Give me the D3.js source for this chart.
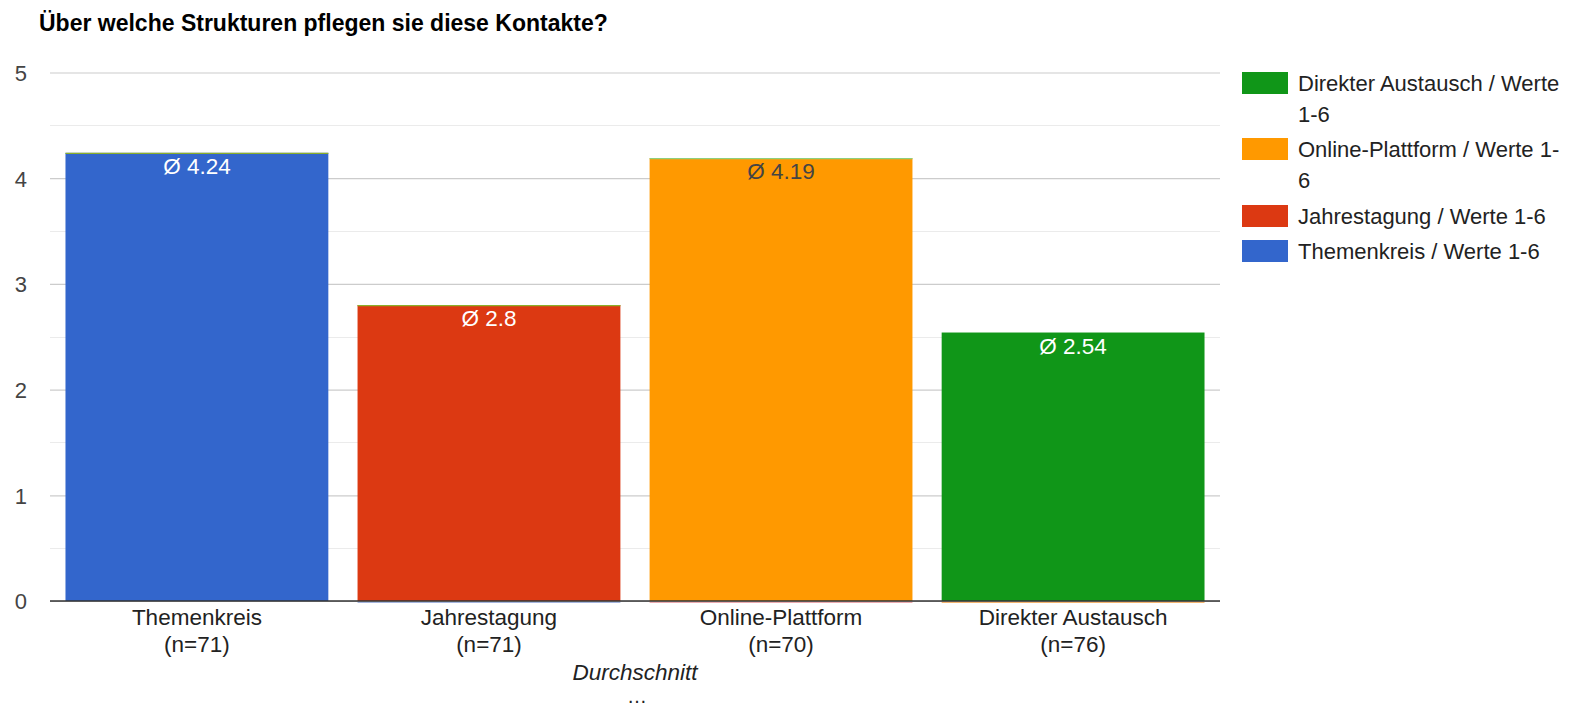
<!DOCTYPE html>
<html>
<head>
<meta charset="utf-8">
<script src="https://cdn.jsdelivr.net/npm/d3@7"></script>
<style>
  html, body { margin: 0; padding: 0; background: #fff; }
  svg { display: block; font-family: "Liberation Sans", Arial, sans-serif; }
</style>
</head>
<body>
<svg id="chart" width="1586" height="709"></svg>
<script>
const title = "Über welche Strukturen pflegen sie diese Kontakte?";
const categories = ["Themenkreis", "Jahrestagung", "Online-Plattform", "Direkter Austausch"];
const counts = ["(n=71)", "(n=71)", "(n=70)", "(n=76)"];
const means = [4.24, 2.8, 4.19, 2.54];
const meanLabels = ["Ø 4.24", "Ø 2.8", "Ø 4.19", "Ø 2.54"];
const colors = ["#3366cc", "#dc3912", "#ff9900", "#109618"];
const labelColors = ["#ffffff", "#ffffff", "#444444", "#ffffff"];
const seriesNames = ["Themenkreis / Werte 1-6", "Jahrestagung / Werte 1-6", "Online-Plattform / Werte 1-6", "Direkter Austausch / Werte 1-6"];
const legendOrder = [3, 2, 1, 0];
const legendLines = [
  ["Direkter Austausch / Werte", "1-6"],
  ["Online-Plattform / Werte 1-", "6"],
  ["Jahrestagung / Werte 1-6"],
  ["Themenkreis / Werte 1-6"]
];
const yTicks = [0, 1, 2, 3, 4, 5];
const yMinorTicks = [0.5, 1.5, 2.5, 3.5, 4.5];
const axisTitle = "Durchschnitt";

(function () {
const svg = d3.select("#chart");
const pL = 50, pR = 1220, pT = 72.5, pB = 601;

const x = d3.scaleBand().domain(categories).range([pL, pR]).paddingInner(0.1).paddingOuter(0.053);
const y = d3.scaleLinear().domain([0, 5]).range([pB, pT]);

// title
svg.append("text").attr("x", 39).attr("y", 31)
  .attr("font-size", 23).attr("font-weight", "bold").attr("fill", "#000")
  .text(title);

// minor grid
svg.append("g").selectAll("line").data(yMinorTicks).join("line")
  .attr("x1", pL).attr("x2", pR)
  .attr("y1", d => Math.round(y(d)) + 0.5).attr("y2", d => Math.round(y(d)) + 0.5)
  .attr("stroke", "#ebebeb").attr("stroke-width", 1);

// y axis with major grid
const yAxis = d3.axisLeft(y).tickValues(yTicks).tickSize(-(pR - pL)).tickFormat(d3.format("d"));
const gy = svg.append("g").attr("transform", `translate(${pL},0)`).call(yAxis);
gy.select(".domain").remove();
gy.selectAll(".tick line").attr("stroke", "#cccccc").attr("stroke-width", 1.2);
gy.selectAll(".tick text").attr("x", -23).attr("fill", "#444").attr("font-size", 22)
  .attr("font-family", "'Liberation Sans', Arial, sans-serif").attr("dy", "0.36em");

// bars
const bars = svg.append("g");
bars.selectAll("rect").data(categories).join("rect")
  .attr("x", d => x(d))
  .attr("y", (d, i) => y(means[i]))
  .attr("width", x.bandwidth())
  .attr("height", (d, i) => y(0) - y(means[i]))
  .attr("fill", (d, i) => colors[i]);

// zero-height stacked segments drawn as thin lines on top of bars
const topColors = ["#8caf2a", "#8caf2a", "#8fcf7c", null];
const topData = categories.map((c, i) => ({ c, v: means[i], col: topColors[i] })).filter(d => d.col);
bars.selectAll("line.topseg").data(topData).join("line")
  .attr("class", "topseg")
  .attr("x1", d => x(d.c)).attr("x2", d => x(d.c) + x.bandwidth())
  .attr("y1", d => y(d.v) + 0.5).attr("y2", d => y(d.v) + 0.5)
  .attr("stroke", d => d.col).attr("stroke-width", 1.2);

// baseline
svg.append("line").attr("x1", pL).attr("x2", pR)
  .attr("y1", y(0)).attr("y2", y(0)).attr("stroke", "#333").attr("stroke-width", 1.3);

// zero segments below bars at baseline
const baseColors = [null, "#8fa3d6", "#e8959b", "#f2a24c"];
const baseData = categories.map((c, i) => ({ c, col: baseColors[i] })).filter(d => d.col);
bars.selectAll("line.baseseg").data(baseData).join("line")
  .attr("class", "baseseg")
  .attr("x1", d => x(d.c)).attr("x2", d => x(d.c) + x.bandwidth())
  .attr("y1", y(0) + 1.3).attr("y2", y(0) + 1.3)
  .attr("stroke", d => d.col).attr("stroke-width", 1);

// value labels
svg.append("g").selectAll("text").data(categories).join("text")
  .attr("x", d => x(d) + x.bandwidth() / 2)
  .attr("y", (d, i) => y(means[i]) + 21)
  .attr("text-anchor", "middle").attr("font-size", 22.5)
  .attr("fill", (d, i) => labelColors[i])
  .text((d, i) => meanLabels[i]);

// x labels
const xl = svg.append("g");
xl.selectAll("text.cat").data(categories).join("text").attr("class", "cat")
  .attr("x", d => x(d) + x.bandwidth() / 2).attr("y", 625)
  .attr("text-anchor", "middle").attr("font-size", 22.5).attr("fill", "#222")
  .text(d => d);
xl.selectAll("text.cnt").data(counts).join("text").attr("class", "cnt")
  .attr("x", (d, i) => x(categories[i]) + x.bandwidth() / 2).attr("y", 652)
  .attr("text-anchor", "middle").attr("font-size", 22.5).attr("fill", "#222")
  .text(d => d);

svg.append("text").attr("x", (pL + pR) / 2).attr("y", 680)
  .attr("text-anchor", "middle").attr("font-size", 22.5).attr("font-style", "italic").attr("fill", "#222")
  .text(axisTitle);
svg.append("text").attr("x", (pL + pR) / 2 + 2).attr("y", 703)
  .attr("text-anchor", "middle").attr("font-size", 20).attr("fill", "#222")
  .text("…");

// legend
const legendY = [83, 149, 216, 251];
const lg = svg.append("g");
legendOrder.forEach((si, k) => {
  const cy = legendY[k];
  lg.append("rect").attr("x", 1242).attr("y", cy - 11).attr("width", 46).attr("height", 22)
    .attr("fill", colors[si]);
  const t = lg.append("text").attr("x", 1298).attr("y", cy + 8)
    .attr("font-size", 22).attr("fill", "#222");
  legendLines[k].forEach((ln, j) => {
    t.append("tspan").attr("x", 1298).attr("dy", j === 0 ? 0 : 31).text(ln);
  });
});
})();
</script>
</body>
</html>
